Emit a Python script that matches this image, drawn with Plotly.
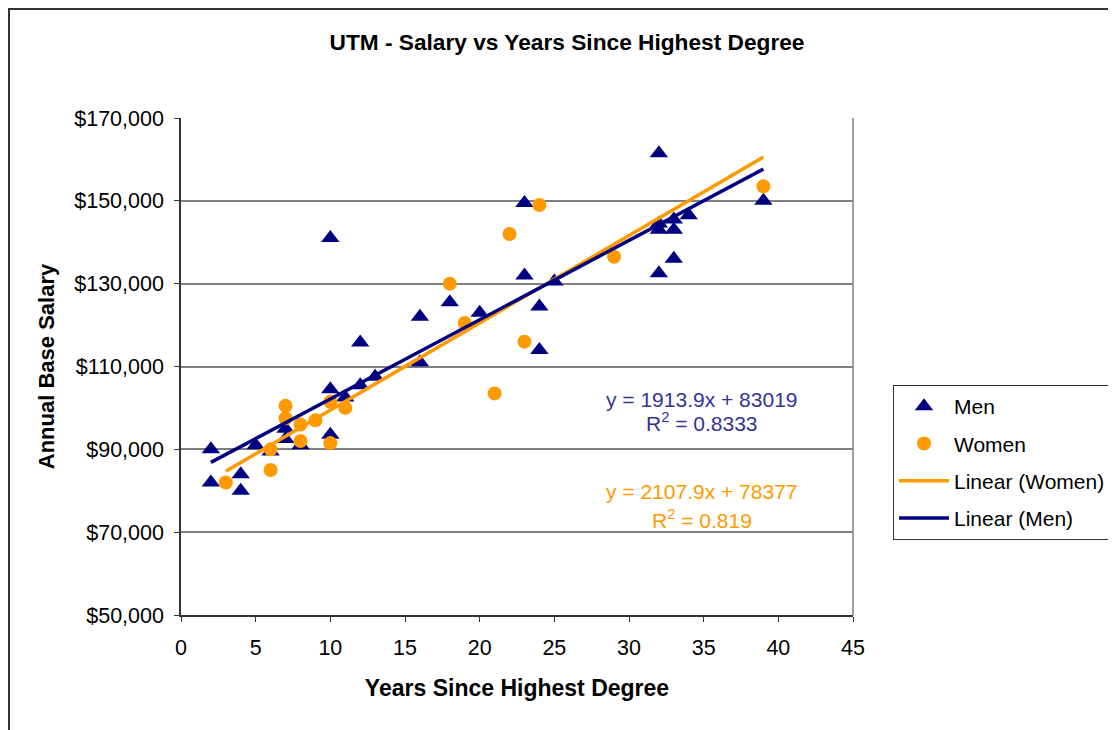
import plotly.graph_objects as go

# ---- data ----
men_years = [2, 2, 4, 4, 5, 6, 7, 7, 8, 10, 10, 10, 11, 12, 12, 13, 16, 16, 18, 20,
             23, 23, 24, 24, 25, 32, 32, 32, 32, 33, 33, 33, 34, 39]
men_salary = [90000, 82000, 84000, 80000, 91000, 89500, 95000, 92500, 91000, 104500,
              93500, 141000, 102500, 115800, 105500, 107500, 122000, 111000, 125500, 123000,
              149500, 132000, 124500, 114000, 130500, 161500, 144500, 143000, 132500, 145500,
              143000, 136000, 146500, 150000]

women_years = [3, 6, 6, 7, 7, 8, 8, 9, 10, 10, 11, 18, 19, 21, 22, 23, 24, 29, 39]
women_salary = [82000, 85000, 90000, 100500, 97500, 96000, 92000, 97000, 91500, 101500,
                100000, 130000, 120500, 103500, 142000, 116000, 149000, 136500, 153500]

men_slope, men_intercept, men_r2 = 1913.9, 83019, "0.8333"
women_slope, women_intercept, women_r2 = 2107.9, 78377, "0.819"

x_ticks = [0, 5, 10, 15, 20, 25, 30, 35, 40, 45]
y_ticks = [50000, 70000, 90000, 110000, 130000, 150000, 170000]

NAVY = "#000080"
ORANGE = "#FF9900"
FONT = "Liberation Sans, Arial, sans-serif"

men_fit_x = [min(men_years), max(men_years)]
men_fit_y = [men_slope * v + men_intercept for v in men_fit_x]
women_fit_x = [min(women_years), max(women_years)]
women_fit_y = [women_slope * v + women_intercept for v in women_fit_x]

fig = go.Figure()
fig.add_trace(go.Scatter(x=men_years, y=men_salary, mode="markers", name="Men",
                         legendgroup="a",
                         marker=dict(symbol="triangle-up", size=16, color=NAVY)))
fig.add_trace(go.Scatter(x=women_years, y=women_salary, mode="markers", name="Women",
                         legendgroup="b",
                         marker=dict(symbol="circle", size=14, color=ORANGE)))
fig.add_trace(go.Scatter(x=women_fit_x, y=women_fit_y, mode="lines", name="Linear (Women)",
                         legendgroup="c",
                         line=dict(color=ORANGE, width=3.5)))
fig.add_trace(go.Scatter(x=men_fit_x, y=men_fit_y, mode="lines", name="Linear (Men)",
                         legendgroup="d",
                         line=dict(color=NAVY, width=3.5)))

fig.update_layout(
    width=1116, height=730,
    margin=dict(l=173, r=271, t=110, b=123),
    paper_bgcolor="white", plot_bgcolor="white",
    font=dict(family=FONT, size=21, color="black"),
    title=dict(text="<b>UTM - Salary vs Years Since Highest Degree</b>",
               x=559 / 1116, xanchor="center", y=1 - 34 / 730, yanchor="middle",
               font=dict(size=22.7, family=FONT)),
    showlegend=True,
    legend=dict(x=(893 - 181) / 672, xanchor="left", y=(615 - 385) / 497, yanchor="top",
                bordercolor="#333333", borderwidth=1, bgcolor="white",
                font=dict(size=21, family=FONT), tracegroupgap=7, itemwidth=50),
    xaxis=dict(range=[0, 45], tickvals=x_ticks, showgrid=False, zeroline=False,
               showline=True, linecolor="#333333", linewidth=1.5,
               ticks="outside", ticklen=5, tickcolor="#333333", ticklabelstandoff=7,
               tickfont=dict(size=21.5),
               title=dict(text="<b>Years Since Highest Degree</b>", standoff=21,
                          font=dict(size=23))),
    yaxis=dict(range=[50000, 170000], tickvals=y_ticks, tickformat="$,.0f",
               showgrid=True, gridcolor="#808080", gridwidth=1.5, zeroline=False,
               showline=True, linecolor="#333333", linewidth=1.5,
               ticks="outside", ticklen=5, tickcolor="#333333", ticklabelstandoff=6,
               tickfont=dict(size=21.5),
               title=dict(text="<b>Annual Base Salary</b>", standoff=14,
                          font=dict(size=22))),
)

# plot-area right edge and outer chart border
fig.add_shape(type="line", xref="paper", yref="paper", x0=1, x1=1, y0=0, y1=1,
              line=dict(color="#808080", width=1.5))
fig.add_shape(type="rect", xref="paper", yref="paper",
              x0=(9 - 181) / 672, x1=1.6, y0=-0.5, y1=(615 - 9) / 497,
              line=dict(color="#333333", width=2), layer="below")

fig.add_annotation(x=34.9, y=102100, xref="x", yref="y", showarrow=False,
                   text=f"y = {men_slope}x + {men_intercept}",
                   font=dict(size=21, color="#333399"))
fig.add_annotation(x=34.9, y=96500, xref="x", yref="y", showarrow=False,
                   text=f"R<sup>2</sup> = {men_r2}",
                   font=dict(size=21, color="#333399"))
fig.add_annotation(x=34.9, y=79700, xref="x", yref="y", showarrow=False,
                   text=f"y = {women_slope}x + {women_intercept}",
                   font=dict(size=21, color=ORANGE))
fig.add_annotation(x=34.9, y=73100, xref="x", yref="y", showarrow=False,
                   text=f"R<sup>2</sup> = {women_r2}",
                   font=dict(size=21, color=ORANGE))

fig.write_html("out.html")
